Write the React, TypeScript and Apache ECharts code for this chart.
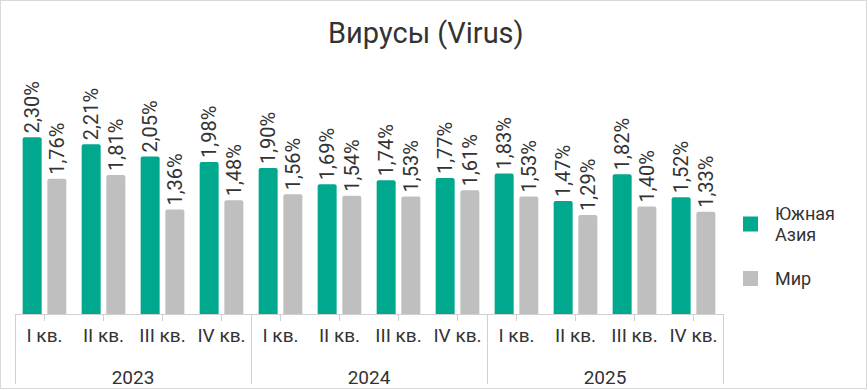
import React, { useEffect, useRef } from "react";
import * as echarts from "echarts";

const quarters = ["I кв.", "II кв.", "III кв.", "IV кв.", "I кв.", "II кв.", "III кв.", "IV кв.", "I кв.", "II кв.", "III кв.", "IV кв."];
const years = ["2023", "2024", "2025"];
const southAsia = [2.3, 2.21, 2.05, 1.98, 1.9, 1.69, 1.74, 1.77, 1.83, 1.47, 1.82, 1.52];
const world = [1.76, 1.81, 1.36, 1.48, 1.56, 1.54, 1.53, 1.61, 1.53, 1.29, 1.4, 1.33];
const seriesNames = ["Южная Азия", "Мир"];

const FONT = "Roboto, 'Noto Sans', sans-serif";
const TEXT = "#333333";

export default function App() {
  const ref = useRef<HTMLDivElement>(null);
  useEffect(() => {
    if (!ref.current) return;
    const chart = echarts.init(ref.current, undefined, { renderer: "svg" });
    const label = {
      show: true,
      position: "top",
      rotate: 90,
      align: "left",
      verticalAlign: "middle",
      distance: 4,
      fontSize: 20,
      fontFamily: FONT,
      color: TEXT,
      formatter: (p: any) => p.value.toFixed(2).replace(".", ",") + "%",
    };
    chart.setOption({
      animation: false,
      textStyle: { fontFamily: FONT },
      title: {
        text: "Вирусы (Virus)",
        left: 323,
        top: 13,
        textStyle: { fontSize: 29, fontWeight: "normal", color: TEXT, fontFamily: FONT },
      },
      legend: {
        orient: "vertical",
        left: 738,
        top: 198,
        itemWidth: 15,
        itemHeight: 15,
        itemGap: 23,
        icon: "rect",
        data: seriesNames,
        formatter: (n: string) => (n === "Южная Азия" ? "Южная\nАзия" : n),
        textStyle: { fontSize: 18, lineHeight: 21, color: TEXT, fontFamily: FONT, padding: [0, 0, 0, 12] },
      },
      grid: { left: 15, right: 145, top: 122, bottom: 76 },
      xAxis: [
        {
          type: "category",
          data: quarters,
          position: "bottom",
          axisLine: { show: true, lineStyle: { color: "#d0d0d0", width: 1 } },
          axisTick: { show: true, alignWithLabel: true, length: 7, lineStyle: { color: "#d0d0d0" } },
          axisLabel: { interval: 0, margin: 12, fontSize: 19, color: TEXT, fontFamily: FONT },
        },
        {
          type: "category",
          data: years,
          position: "bottom",
          axisLine: { show: false },
          axisTick: { show: true, length: 70, lineStyle: { color: "#d0d0d0" } },
          axisLabel: { interval: 0, margin: 54, fontSize: 19, color: TEXT, fontFamily: FONT },
        },
      ],
      yAxis: { type: "value", min: 0, max: 2.5, show: false, splitLine: { show: false } },
      series: [
        {
          name: seriesNames[0],
          type: "bar",
          xAxisIndex: 0,
          data: southAsia,
          barWidth: 19,
          barGap: "30%",
          itemStyle: { color: "#00A88E", borderRadius: [2, 2, 0, 0] },
          label,
        },
        {
          name: seriesNames[1],
          type: "bar",
          xAxisIndex: 0,
          data: world,
          barWidth: 19,
          barGap: "30%",
          itemStyle: { color: "#BFBFBF", borderRadius: [2, 2, 0, 0] },
          label,
        },
      ],
    });
    return () => chart.dispose();
  }, []);
  return (
    <div style={{ position: "fixed", left: 0, top: 0, width: 868, height: 390, background: "#fff" }}>
      <div style={{ position: "absolute", left: 0, top: 0, width: 867, height: 389, boxSizing: "border-box", border: "1px solid #d9d9d9" }} />
      <div ref={ref} style={{ position: "absolute", left: 0, top: 0, width: 868, height: 390 }} />
    </div>
  );
}
